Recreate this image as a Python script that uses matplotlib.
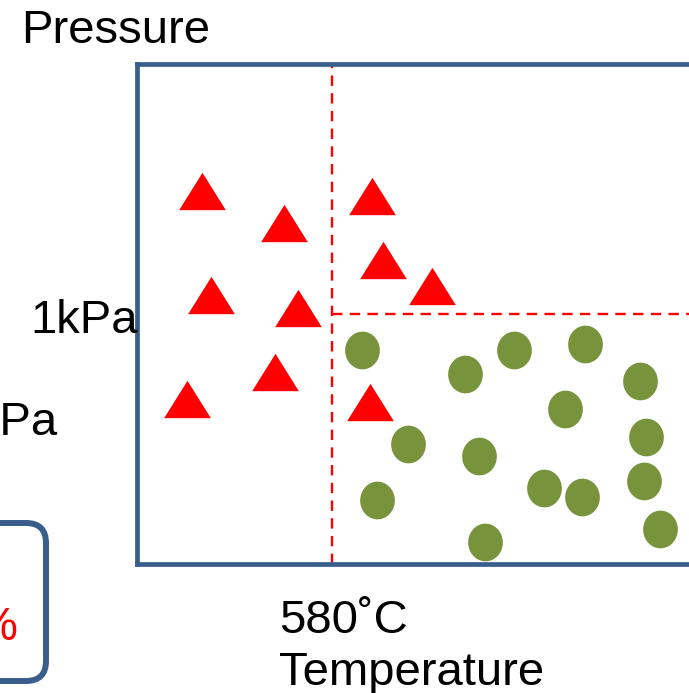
import numpy as np
import matplotlib
matplotlib.use("Agg")
import matplotlib.pyplot as plt
from matplotlib.patches import FancyBboxPatch

# Process window: temperature (x) vs pressure (y), arbitrary position units
T_SPLIT = 195.3      # 580 °C boundary
P_SPLIT = 249.3      # 1 kPa boundary

# Conditions that failed (red triangles)
fail_temp = [65.6, 146.8, 234.8, 245.8, 294.8, 74.1, 161.5, 137.8, 50.1, 232.8]
fail_pres = [372.2, 340.7, 368.0, 303.8, 277.7, 268.7, 255.5, 191.7, 164.3, 162.0]

# Conditions that succeeded (green circles)
ok_temp = [225.0, 328.6, 377.6, 448.3, 503.0, 428.0, 271.3, 342.6, 509.6,
           240.3, 407.0, 445.6, 507.0, 348.0, 523.6]
ok_pres = [213.2, 189.8, 213.2, 219.8, 182.2, 154.5, 119.8, 107.5, 126.5,
           63.5, 75.5, 66.8, 82.2, 21.8, 34.2]

RED = "#FF0000"
GREEN = "#77933C"
FRAME = "#3A5E8B"
FONT = "Liberation Sans"
FS = 34

W, H = 689, 693
fig = plt.figure(figsize=(W / 100, H / 100), dpi=100)

# Main plotting frame (right side runs past the canvas)
left_px, top_px, bottom_px, right_px = 136.7, 64.2, 563.5, 760.0
ax = fig.add_axes([left_px / W, (H - bottom_px) / H,
                   (right_px - left_px) / W, (bottom_px - top_px) / H])
ax.set_xlim(0, right_px - left_px)
ax.set_ylim(0, bottom_px - top_px)
ax.set_xticks([])
ax.set_yticks([])
for sp in ax.spines.values():
    sp.set_color(FRAME)
    sp.set_linewidth(3.4)
    sp.set_zorder(5)

# Boundaries
dash = (0, (4.4, 3.1))
ax.axvline(T_SPLIT, color=RED, lw=1.7, linestyle=dash, zorder=2)
ax.hlines(P_SPLIT, T_SPLIT, right_px - left_px, color=RED, lw=1.7,
          linestyle=dash, zorder=2)

# Markers
tri = [(-1, -0.8), (1, -0.8), (0, 0.8), (-1, -0.8)]
t = np.linspace(0, 2 * np.pi, 60)
ell = list(zip(0.92 * np.cos(t), np.sin(t)))

ax.plot(fail_temp, fail_pres, linestyle="none", marker=tri,
        markersize=46.7 * 0.72, color=RED, mew=0, zorder=3)
ax.plot(ok_temp, ok_pres, linestyle="none", marker=ell,
        markersize=37.7 * 0.72, color=GREEN, mew=0, zorder=3)

# Annotation layer in canvas pixel units
ov = fig.add_axes([0, 0, 1, 1])
ov.set_xlim(0, W)
ov.set_ylim(H, 0)
ov.axis("off")

box = FancyBboxPatch((-200, 523), 246, 158,
                     boxstyle="round,pad=0,rounding_size=20",
                     fill=False, edgecolor=FRAME, lw=4.3)
ov.add_patch(box)

txt = dict(fontsize=FS, family=FONT, va="baseline")
ov.text(21.5, 43.3, "Pressure", ha="left", **txt)
ov.text(138, 333.3, "1kPa", ha="right", **txt)
ov.text(57, 435, "0.1kPa", ha="right", **txt)
ov.text(279, 633.3, "580˚C", ha="left", **txt)
ov.text(279.5, 685, "Temperature", ha="left", **txt)
ov.text(17.5, 640, "%", ha="right", color=RED, **txt)

fig.savefig("out.png", dpi=100)
